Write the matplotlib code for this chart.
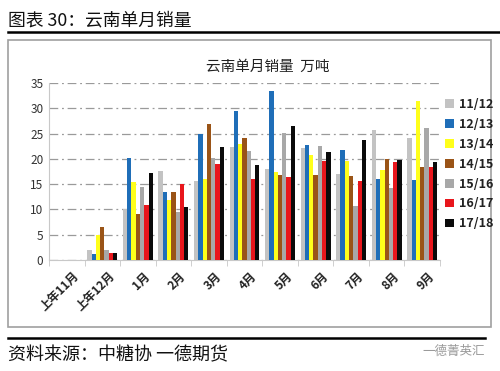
import matplotlib
matplotlib.use("Agg")
import matplotlib.pyplot as plt
import matplotlib.transforms as mtransforms
import numpy as np
from matplotlib.patches import Rectangle, Patch
from matplotlib.lines import Line2D

plt.rcParams['font.family'] = ['Noto Sans CJK SC', 'DejaVu Sans']

categories = ["上年11月", "上年12月", "1月", "2月", "3月", "4月", "5月", "6月", "7月", "8月", "9月"]
series_names = ["11/12", "12/13", "13/14", "14/15", "15/16", "16/17", "17/18"]
s1112 = [0, 2.0, 10.1, 17.6, 15.7, 22.3, 18.0, 22.1, 17.0, 25.8, 24.2]
s1213 = [0, 1.1, 20.1, 13.4, 25.0, 29.5, 33.5, 22.8, 21.8, 16.0, 15.9]
s1314 = [0, 5.0, 15.4, 11.9, 16.0, 22.9, 17.5, 20.8, 19.6, 17.7, 31.4]
s1415 = [0, 6.5, 9.0, 13.4, 26.9, 24.2, 16.9, 16.9, 16.7, 19.9, 18.3]
s1516 = [0, 2.0, 14.5, 9.4, 20.1, 21.5, 25.2, 22.6, 10.6, 14.2, 26.1]
s1617 = [0, 1.3, 10.8, 15.1, 19.0, 16.0, 16.5, 19.6, 15.7, 19.4, 18.3]
s1718 = [0, 1.3, 17.2, 10.4, 22.3, 18.7, 26.4, 21.3, 23.8, 19.7, 19.4]
series = [s1112, s1213, s1314, s1415, s1516, s1617, s1718]
colors = ["#C3C3C3", "#1F6EB8", "#FFFF1A", "#9A5417", "#A8A8A8", "#E8161C", "#0A0A0A"]

fig = plt.figure(figsize=(5.0, 3.71), dpi=100)
W, H = 500.0, 371.0

def fx(px):
    return px / W

def fy(py):
    return 1 - py / H

# header
fig.text(fx(8), fy(20), "图表 30：云南单月销量", fontsize=12.8, va="center", ha="left", color="#111111")
fig.add_artist(Line2D([fx(8), fx(500)], [fy(32), fy(32)], color="black", lw=1.8))
# frame box
fig.add_artist(Rectangle((fx(8), fy(327)), fx(491) - fx(8), fy(40) - fy(327),
                         fill=False, edgecolor="#A0A0A0", lw=1.2))
# footer
fig.add_artist(Line2D([fx(8), fx(485)], [fy(338), fy(338)], color="black", lw=1.8))
fig.text(fx(8), fy(355), "资料来源：中糖协 一德期货", fontsize=13, va="center", ha="left", color="#111111")
fig.text(fx(485), fy(351), "一德菁英汇", fontsize=9, va="center", ha="right", color="#9A9A9A",
         bbox=dict(facecolor="white", edgecolor="none", pad=1))

# chart
ax = fig.add_axes([fx(49), fy(260), fx(440) - fx(49), fy(83) - fy(260)])
n = len(series)
x = np.arange(len(categories))
bw = 0.12
for i, (vals, c, name) in enumerate(zip(series, colors, series_names)):
    offs = (i - (n - 1) / 2) * bw
    ax.bar(x + offs, vals, width=bw, color=c, label=name, zorder=3)

ax.set_xlim(-0.5, len(categories) - 0.5)
ax.set_ylim(0, 35)
ax.set_yticks(np.arange(0, 36, 5))
ax.yaxis.grid(True, color="#9A9A9A", linestyle=(0, (7, 3, 1.5, 3)), lw=0.9, zorder=0)
for s in ["top", "right"]:
    ax.spines[s].set_visible(False)
ax.spines["left"].set_color("#C8C8C8")
ax.spines["bottom"].set_color("#C8C8C8")
ax.tick_params(axis="y", length=0, labelsize=8.5, colors="#333333", pad=4)
ax.set_xticks(x)
ax.set_xticklabels(categories, rotation=45, ha="right", rotation_mode="anchor",
                   fontsize=8.5, fontweight="bold", color="#222222")
ax.tick_params(axis="x", length=0, pad=7)
offset = mtransforms.ScaledTranslation(6 / 100.0, 0, fig.dpi_scale_trans)
for lbl in ax.get_xticklabels():
    lbl.set_transform(lbl.get_transform() + offset)
ax.set_xticks(np.arange(-0.5, len(categories), 1.0), minor=True)
ax.tick_params(axis="x", which="minor", length=4, color="#C8C8C8")

fig.text(fx(268), fy(67), "云南单月销量  万吨", fontsize=10.5, ha="center", va="center", color="#222222")

handles = [Patch(facecolor=c, edgecolor="none") for c in colors]
leg = fig.legend(handles, series_names, loc="upper left", bbox_to_anchor=(fx(440), fy(93)),
                 frameon=False, fontsize=9, handlelength=0.7, handleheight=0.7,
                 handletextpad=0.4, labelspacing=0.55, borderaxespad=0)
for t in leg.get_texts():
    t.set_fontweight("bold")
    t.set_color("#222222")

fig.savefig("out.png", dpi=100)
